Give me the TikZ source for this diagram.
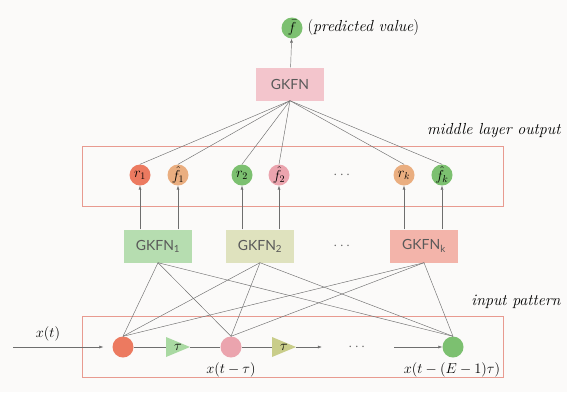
\documentclass[tikz,border=0pt]{standalone}
\usepackage{amsmath}
\usepackage{fontspec}
\newfontfamily\gkfnfont{Lato}
\usetikzlibrary{arrows.meta}
\definecolor{bgpaper}{HTML}{FBFAF9}
\definecolor{framered}{HTML}{E89A90}
\definecolor{dotred}{HTML}{EC7A60}
\definecolor{dottan}{HTML}{EAAE80}
\definecolor{dotgreen}{HTML}{7CC070}
\definecolor{dotpink}{HTML}{EBA4AE}
\definecolor{boxpink}{HTML}{F3C5CC}
\definecolor{boxgreen}{HTML}{B6DDB0}
\definecolor{boxolive}{HTML}{DFE2BE}
\definecolor{boxsalmon}{HTML}{F3B4AA}
\definecolor{trigreen}{HTML}{A9D9A2}
\definecolor{triolive}{HTML}{C9CD8A}
\definecolor{wiregray}{HTML}{6E6E6E}

\begin{document}
\begin{tikzpicture}[x=1pt, y=-1pt,
		unit/.style={circle, minimum size=21pt, inner sep=0pt, font=\fontsize{14}{14}\selectfont},
		gbox/.style={minimum width=68pt, minimum height=33pt, inner sep=0pt, font=\gkfnfont\fontsize{14}{14}\selectfont, text=black!65},
		frame/.style={draw=framered, line width=0.8pt},
		wire/.style={draw=wiregray, line width=0.45pt},
		arr/.style={wire, -{Latex[length=4pt, width=3pt]}},
		delay/.style={minimum width=24pt, minimum height=20pt, inner sep=0pt, font=\fontsize{14}{14}\selectfont,
			path picture={\fill[#1] (path picture bounding box.north west) -- (path picture bounding box.east) -- (path picture bounding box.south west) -- cycle;}},
		lbl/.style={font=\fontsize{14}{16}\selectfont},
		tag/.style={font=\fontsize{16}{18}\selectfont\itshape}]
			\fill[bgpaper] (0,0) rectangle (567,392);
			\useasboundingbox (0,0) rectangle (567,392);
			\draw[frame] (82,146) rectangle (503,206);
			\draw[frame] (82,316) rectangle (503,377);

			\node[unit, fill=dotgreen] (out) at (292,28) {$\bar{f}$};
			\node[tag, anchor=west] (outlbl) at (304,28) {\upshape(\itshape predicted value\upshape)};
			\node[gbox, fill=boxpink] (top) at (290,84) {GKFN};
			\draw[arr] (top) -- (out);

			\node[tag, anchor=east] (midlbl) at (564,131) {middle layer output};
			\node[unit, fill=dotred] (r1) at (140,175) {$r_1$};
			\node[unit, fill=dottan] (f1) at (178,175) {$\hat{f}_1$};
			\node[unit, fill=dotgreen] (r2) at (242,175) {$r_2$};
			\node[unit, fill=dotpink] (f2) at (279,175) {$\hat{f}_2$};
			\node[lbl, text=black!60] (mdots) at (343,175) {$\cdots$};
			\node[unit, fill=dottan] (rk) at (404,175) {$r_k$};
			\node[unit, fill=dotgreen] (fk) at (442,175) {$\hat{f}_k$};
			\foreach \m in {r1,f1,r2,f2,rk,fk}
				\draw[wire] (top.south) -- (\m.north);

			\node[gbox, fill=boxgreen] (g1) at (158,246) {GKFN\textsubscript{1}};
			\node[gbox, fill=boxolive] (g2) at (260,246) {GKFN\textsubscript{2}};
			\node[lbl, text=black!60] (gdots) at (343,246) {$\cdots$};
			\node[gbox, fill=boxsalmon] (gk) at (424,246) {GKFN\textsubscript{k}};
			\draw[arr] (g1.north -| r1) -- (r1);
			\draw[arr] (g1.north -| f1) -- (f1);
			\draw[arr] (g2.north -| r2) -- (r2);
			\draw[arr] (g2.north -| f2) -- (f2);
			\draw[arr] (gk.north -| rk) -- (rk);
			\draw[arr] (gk.north -| fk) -- (fk);

			\node[tag, anchor=east] (inlbl) at (564,302) {input pattern};
			\coordinate (src) at (13,347);
			\node[lbl] (xtlbl) at (48,334) {$x(t)$};
			\node[unit, fill=dotred] (x1) at (123,347) {};
			\node[delay=trigreen] (t1) at (178,347) {$\tau$\hspace{7pt}};
			\node[unit, fill=dotpink] (x2) at (231,347) {};
			\node[delay=triolive] (t2) at (284,347) {$\tau$\hspace{7pt}};
			\node[lbl, text=black!60, minimum width=72pt] (idots) at (358,347) {$\cdots$};
			\node[unit, fill=dotgreen] (x3) at (453,347) {};
			\node[lbl] (x2lbl) at (231,370) {$x(t-\tau)$};
			\node[lbl] (x3lbl) at (452,370) {$x(t-(E-1)\tau)$};
			\draw[arr, shorten >=9pt] (src) -- (x1);
			\draw[wire] (x1) -- (t1) -- (x2) -- (t2);
			\draw[arr] (t2) -- (idots);
			\draw[arr] (idots) -- (x3);
			\foreach \g in {g1,g2,gk}
				\foreach \x in {x1,x2,x3}
					\draw[wire] (\g.south) -- (\x.north);
		\end{tikzpicture}
\end{document}
